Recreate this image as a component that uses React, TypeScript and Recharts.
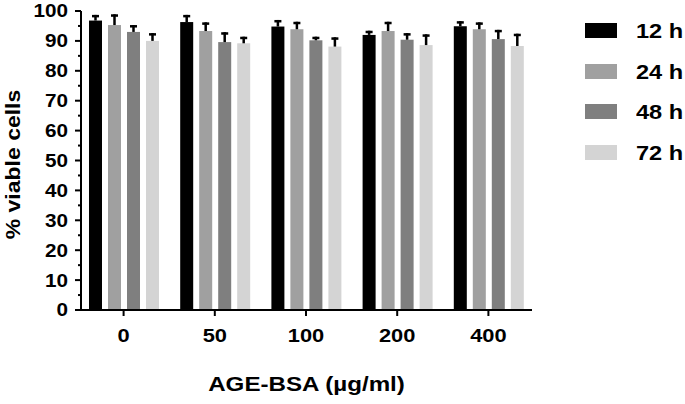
import React from "react";
import { BarChart, Bar, XAxis, YAxis, Legend } from "recharts";

const doses = ["0", "50", "100", "200", "400"];
const seriesNames = ["12 h", "24 h", "48 h", "72 h"];
const seriesColors = ["#000000", "#a0a0a0", "#7f7f7f", "#d4d4d4"];

// mean % viable cells
const h12 = [96.8, 96.3, 94.8, 92.0, 94.9];
const h24 = [95.3, 93.3, 93.9, 93.3, 93.9];
const h48 = [93.0, 89.6, 90.2, 90.4, 90.6];
const h72 = [90.0, 89.2, 88.1, 88.6, 88.3];

// upper error (SD)
const e12 = [1.9, 2.4, 2.2, 1.4, 1.7];
const e24 = [3.6, 2.9, 2.5, 3.1, 2.3];
const e48 = [2.3, 3.3, 1.2, 2.2, 3.1];
const e72 = [2.6, 2.2, 3.1, 3.6, 4.1];

const yTicks = [0, 5, 10, 15, 20, 25, 30, 35, 40, 45, 50, 55, 60, 65, 70, 75, 80, 85, 90, 95, 100];

const data = doses.map((d, i) => ({
  dose: d,
  h12: h12[i], e12: e12[i],
  h24: h24[i], e24: e24[i],
  h48: h48[i], e48: e48[i],
  h72: h72[i], e72: e72[i],
}));

const keys = ["h12", "h24", "h48", "h72"];
const errKeys = ["e12", "e24", "e48", "e72"];

const FONT = "'Liberation Sans', Arial, sans-serif";
const STRETCH = 1.15;

// bar with upward-only error bar (Prism style)
const makeShape = (valKey: string, errKey: string) => (props: any) => {
  const { x, y, width, height, fill, payload } = props;
  const v = payload[valKey];
  const e = payload[errKey];
  const ePx = v ? (e * height) / v : 0;
  const cx = x + width / 2;
  return (
    <g>
      <rect x={x} y={y} width={width} height={height} fill={fill} />
      <rect x={cx - 1.25} y={y - ePx} width={2.5} height={ePx} fill="#000" />
      <rect x={cx - 3.5} y={y - ePx} width={7} height={2.5} fill="#000" />
    </g>
  );
};

const YTick = (props: any) => {
  const { x, y, payload } = props;
  const v = payload.value;
  const major = v % 10 === 0;
  const axisX = x + 13;
  return (
    <g>
      <line x1={major ? axisX - 6 : axisX - 3} x2={axisX} y1={y} y2={y} stroke="#000" strokeWidth={2} />
      {major && (
        <text
          transform={`translate(${x} ${y}) scale(${STRETCH} 1)`}
          textAnchor="end"
          dy="0.36em"
          fontFamily={FONT}
          fontWeight="bold"
          fontSize={18}
          fill="#000"
        >
          {v}
        </text>
      )}
    </g>
  );
};

const XTick = (props: any) => {
  const { x, y, payload } = props;
  return (
    <text
      transform={`translate(${x} ${y}) scale(${STRETCH} 1)`}
      textAnchor="middle"
      dy="0.72em"
      fontFamily={FONT}
      fontWeight="bold"
      fontSize={19}
      fill="#000"
    >
      {payload.value}
    </text>
  );
};

const XTitle = (props: any) => {
  const { x, y, width } = props.viewBox;
  return (
    <text
      transform={`translate(${x + width / 2} ${y + 81}) scale(${STRETCH} 1)`}
      textAnchor="middle"
      fontFamily={FONT}
      fontWeight="bold"
      fontSize={21}
      fill="#000"
    >
      AGE-BSA (µg/ml)
    </text>
  );
};

const YTitle = (props: any) => {
  const { x, y, height } = props.viewBox;
  return (
    <text
      transform={`translate(${x - 8} ${y + height / 2 + 4}) rotate(-90) scale(${STRETCH} 1)`}
      textAnchor="middle"
      dy="0.36em"
      fontFamily={FONT}
      fontWeight="bold"
      fontSize={20}
      fill="#000"
    >
      % viable cells
    </text>
  );
};

const LegendContent = (props: any) => {
  const items = props.payload || [];
  return (
    <div style={{ fontFamily: FONT, fontWeight: "bold", fontSize: 20.5 }}>
      {items.map((it: any) => (
        <div key={it.value} style={{ position: "relative", height: 40.6 }}>
          <div style={{ position: "absolute", left: 0, top: 0, width: 32, height: 15, background: it.color }} />
          <span
            style={{
              position: "absolute",
              left: 51,
              top: -3,
              lineHeight: "21px",
              whiteSpace: "nowrap",
              transform: `scaleX(${STRETCH})`,
              transformOrigin: "left center",
            }}
          >
            {it.value}
          </span>
        </div>
      ))}
    </div>
  );
};

export default function App() {
  return (
    <div style={{ width: 685, height: 404, background: "#fff" }}>
      <style>{`body{margin:0}`}</style>
      <BarChart
        width={685}
        height={404}
        data={data}
        margin={{ top: 11, right: 153, bottom: 64, left: 21 }}
        barSize={13}
        barGap={6}
      >
        <XAxis
          dataKey="dose"
          height={30}
          padding={{ left: -3, right: -2 }}
          axisLine={{ stroke: "#000", strokeWidth: 2 }}
          tickLine={{ stroke: "#000", strokeWidth: 2 }}
          tickSize={6}
          tickMargin={12}
          tick={<XTick />}
          interval={0}
          label={{ content: <XTitle /> } as any}
        />
        <YAxis
          width={60}
          domain={[0, 100]}
          ticks={yTicks}
          interval={0}
          tickLine={false}
          tickSize={6}
          tickMargin={7}
          axisLine={{ stroke: "#000", strokeWidth: 2 }}
          tick={<YTick />}
          label={{ content: <YTitle /> } as any}
        />
        <Legend
          layout="vertical"
          align="center"
          verticalAlign="middle"
          content={<LegendContent />}
          wrapperStyle={{ left: 585, top: 23, width: 100, height: 165 }}
        />
        {keys.map((k, i) => (
          <Bar
            key={k}
            dataKey={k}
            name={seriesNames[i]}
            fill={seriesColors[i]}
            shape={makeShape(k, errKeys[i])}
            isAnimationActive={false}
          />
        ))}
      </BarChart>
    </div>
  );
}
